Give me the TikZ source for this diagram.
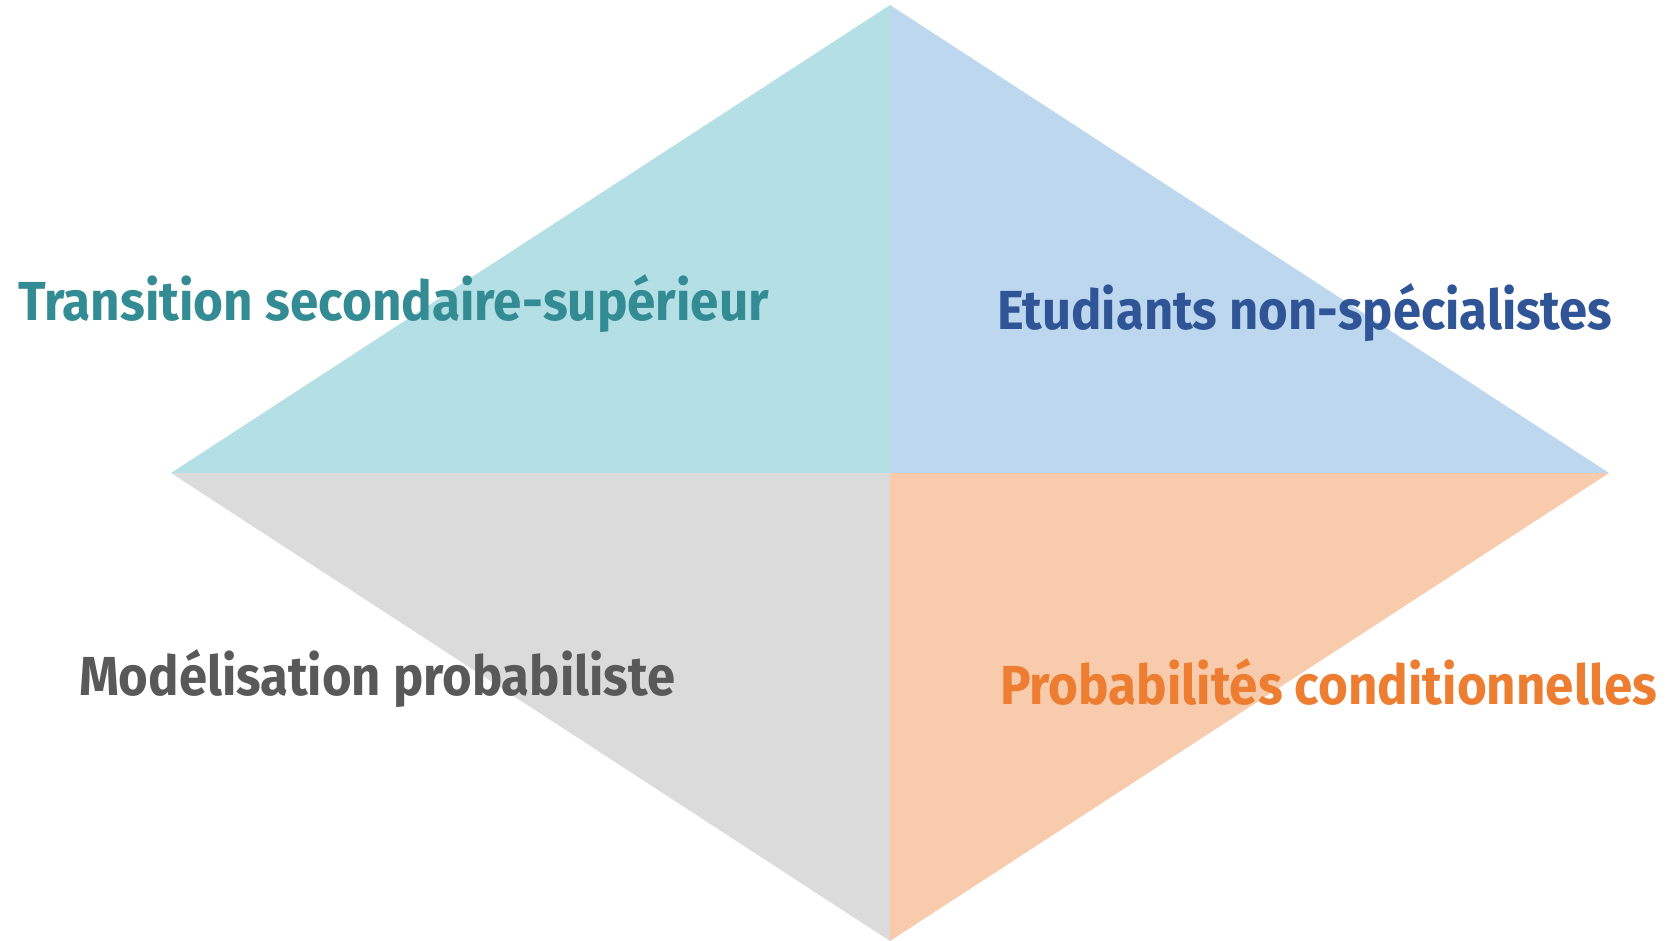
\documentclass[tikz,border=0pt]{standalone}
\usepackage{fontspec}
\setmainfont{Fira Sans}
\usepackage{graphicx}
\definecolor{fteal}{HTML}{B4E0E5}
\definecolor{fblue}{HTML}{BDD7EE}
\definecolor{fgray}{HTML}{DBDBDB}
\definecolor{forange}{HTML}{F8CBAD}
\definecolor{tteal}{HTML}{338C93}
\definecolor{tblue}{HTML}{2F5597}
\definecolor{tgray}{HTML}{595959}
\definecolor{torange}{HTML}{ED7D31}
\tikzset{
  lbl/.style={anchor=base west, inner sep=0pt, outer sep=0pt, font=\fontsize{55}{60}\selectfont\bfseries},
}
\newcommand{\fitw}[2]{\resizebox{#1}{\height}{#2}}
\begin{document}
\begin{tikzpicture}[x=1pt,y=-1pt]
\useasboundingbox (0,0) rectangle (1668,941);
\coordinate (T) at (890,5);
\coordinate (L) at (171,473);
\coordinate (R) at (1609,473);
\coordinate (B) at (890,941);
\coordinate (C) at (890,473);
\fill[fteal] (T) -- (L) -- (C) -- cycle;
\fill[fblue] (T) -- (R) -- (C) -- cycle;
\fill[fgray] (L) -- (B) -- (C) -- cycle;
\fill[forange] (R) -- (B) -- (C) -- cycle;
\node[lbl, text=tteal] (t1) at (18,321) {\fitw{751pt}{Transition secondaire-supérieur}};
\node[lbl, text=tblue] (t2) at (997,330) {\fitw{615pt}{Etudiants non-spécialistes}};
\node[lbl, text=tgray] (t3) at (79,695) {\fitw{596pt}{Modélisation probabiliste}};
\node[lbl, text=torange] (t4) at (1000,704) {\fitw{657pt}{Probabilités conditionnelles}};
\end{tikzpicture}
\end{document}
